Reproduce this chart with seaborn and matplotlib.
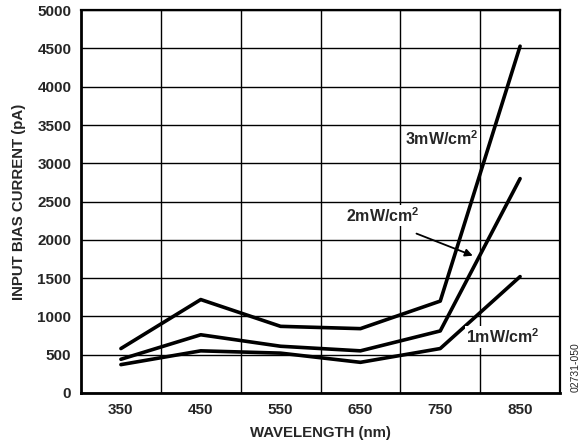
import pandas as pd
import numpy as np
import matplotlib
matplotlib.use("Agg")
import matplotlib.pyplot as plt
import seaborn as sns

# =====================================
# Data
# =====================================

wavelength = [350, 450, 550, 650, 750, 850]
current_3mw = [580, 1220, 870, 840, 1200, 4530]
current_2mw = [440, 760, 610, 550, 810, 2800]
current_1mw = [370, 550, 520, 400, 580, 1520]

series_names = ["3mW", "2mW", "1mW"]

df = pd.DataFrame({
    "wavelength": wavelength * 3,
    "current": current_3mw + current_2mw + current_1mw,
    "series": np.repeat(series_names, len(wavelength)),
})

# =====================================
# Style
# =====================================

sns.set_style("white")
plt.rcParams["font.family"] = ["Liberation Sans", "DejaVu Sans"]
plt.rcParams["font.weight"] = "bold"
plt.rcParams["mathtext.default"] = "regular"

fig = plt.figure(figsize=(5.87, 4.44), dpi=100)
ax = fig.add_axes([0.138, 0.115, 0.816, 0.862])

sns.lineplot(
    data=df,
    x="wavelength",
    y="current",
    hue="series",
    palette=["black"] * 3,
    linewidth=2.6,
    legend=False,
    ax=ax,
)

ax.set_xlim(300, 900)
ax.set_ylim(0, 5000)

# grid at every 100 nm / 500 pA, labels centred between x grid lines
ax.set_xticks(range(400, 900, 100), minor=False)
ax.set_xticks(wavelength, minor=True)
ax.set_xticklabels([])
ax.set_xticklabels([str(w) for w in wavelength], minor=True)
ax.set_yticks(range(0, 5001, 500))
ax.grid(True, which="major", color="black", linewidth=1.0)
ax.tick_params(which="both", length=0, labelsize=11, pad=7)
for lab in ax.get_xticklabels(minor=True) + ax.get_yticklabels():
    lab.set_fontweight("bold")

for side in ["left", "bottom", "top", "right"]:
    ax.spines[side].set_visible(True)
    ax.spines[side].set_color("black")
    ax.spines[side].set_linewidth(1.6)
ax.spines["left"].set_linewidth(2.0)
ax.spines["bottom"].set_linewidth(2.0)

ax.set_xlabel("WAVELENGTH (nm)", fontsize=10.8, fontweight="bold", labelpad=7)
ax.set_ylabel("INPUT BIAS CURRENT (pA)", fontsize=10.8, fontweight="bold", labelpad=8)

# =====================================
# Annotations
# =====================================

bbox = dict(facecolor="white", edgecolor="none", pad=1)
ax.text(752, 3320, "3mW/cm$^2$", fontsize=11.5, fontweight="bold",
        ha="center", va="center", bbox=bbox)
ax.text(678, 2320, "2mW/cm$^2$", fontsize=11.5, fontweight="bold",
        ha="center", va="center", bbox=bbox)
ax.annotate(
    "",
    xy=(794, 1780),
    xytext=(717, 2095),
    arrowprops=dict(arrowstyle="-|>", color="black", lw=1.3, mutation_scale=11),
)
ax.text(829, 730, "1mW/cm$^2$", fontsize=11.5, fontweight="bold",
        ha="center", va="center", bbox=bbox)

fig.text(0.98, 0.173, "02731-050", rotation=90, fontsize=7.5,
         fontweight="normal", ha="center", va="center")

plt.savefig("out.png", dpi=100)
plt.close()
